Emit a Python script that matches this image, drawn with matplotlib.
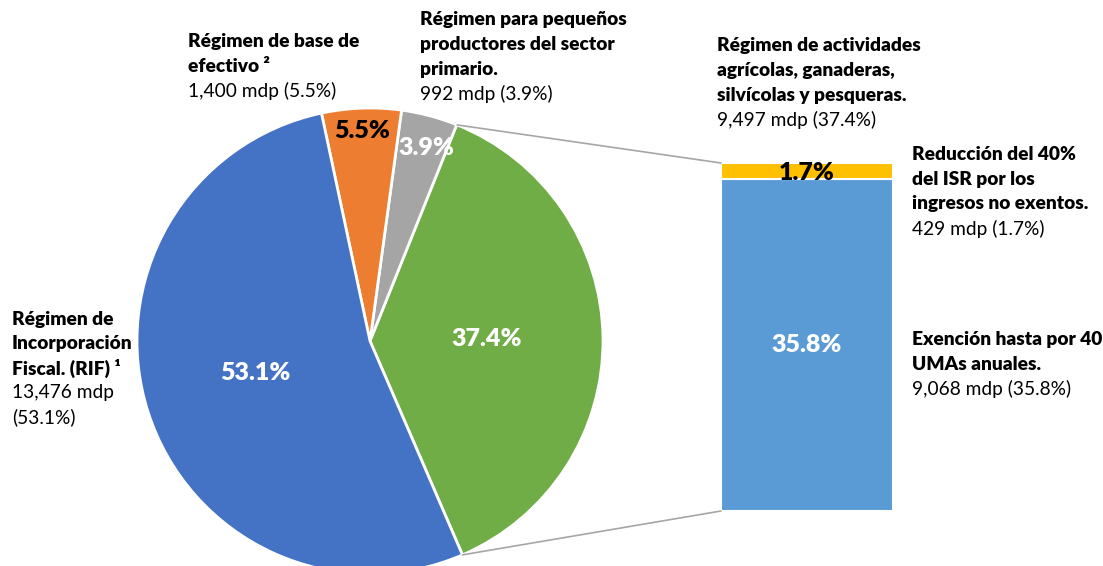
import matplotlib
matplotlib.use("Agg")
import matplotlib.pyplot as plt
from matplotlib.patches import ConnectionPatch
import numpy as np

# ---- data ----
pie_names = [
    "Régimen de actividades\nagrícolas, ganaderas,\nsilvícolas y pesqueras.",
    "Régimen para pequeños\nproductores del sector\nprimario.",
    "Régimen de base de\nefectivo ²",
    "Régimen de\nIncorporación\nFiscal. (RIF) ¹",
]
pie_mdp = [9497, 992, 1400, 13476]
pie_pct = [37.4, 3.9, 5.5, 53.1]
pie_colors = ["#70AD47", "#A5A5A5", "#ED7D31", "#4472C4"]
pie_pct_colors = ["white", "white", "black", "white"]

bar_names = [
    "Exención hasta por 40\nUMAs anuales.",
    "Reducción del 40%\ndel ISR por los\ningresos no exentos.",
]
bar_mdp = [9068, 429]
bar_pct = [35.8, 1.7]
bar_colors = ["#5B9BD5", "#FFC000"]
bar_pct_colors = ["white", "black"]

FAM = ["Lato", "DejaVu Sans"]
plt.rcParams["font.family"] = FAM

W, H = 1103, 566
fig = plt.figure(figsize=(W / 100, H / 100), dpi=100)
ax = fig.add_axes([0, 0, 1, 1])

cx, cy, R = 370, H - 341, 233
start = -pie_pct[0] / 100 * 360 / 2 + 0.7
wedges, _ = ax.pie(pie_pct, colors=pie_colors, startangle=start, counterclock=True,
                   center=(cx, cy), radius=R,
                   wedgeprops=dict(edgecolor="white", linewidth=2))
ax.set_xlim(0, W)
ax.set_ylim(0, H)
ax.set_aspect("auto")
ax.axis("off")

PCT_FS = 18
# percentage labels inside pie
pct_pos = [(487, 339), (426, 148), (362, 131), (255, 373)]
for (x, y), p, c in zip(pct_pos, pie_pct, pie_pct_colors):
    ax.text(x, H - y, f"{p}%", color=c, fontsize=PCT_FS, fontweight="heavy",
            ha="center", va="center")

# ---- bar ----
bx0, bx1, by0, by1 = 721, 893, 163, 511
bax = fig.add_axes([bx0 / W, (H - by1) / H, (bx1 - bx0) / W, (by1 - by0) / H])
bottom = 0
for v, c in zip(bar_pct, bar_colors):
    bax.bar(0, v, bottom=bottom, width=1, color=c, edgecolor="white", linewidth=1.5)
    bottom += v
bax.set_xlim(-0.5, 0.5)
bax.set_ylim(0, sum(bar_pct))
bax.axis("off")
bax.text(0, bar_pct[0] / 2, f"{bar_pct[0]}%", color=bar_pct_colors[0], fontsize=PCT_FS,
         fontweight="heavy", ha="center", va="center")
bax.text(0, bar_pct[0] + bar_pct[1] / 2 - 0.25, f"{bar_pct[1]}%", color=bar_pct_colors[1],
         fontsize=PCT_FS, fontweight="heavy", ha="center", va="center")

# connector lines
t1 = np.deg2rad(start + pie_pct[0] / 100 * 360)
t0 = np.deg2rad(start)
for t, yb in [(t1, sum(bar_pct)), (t0, 0)]:
    con = ConnectionPatch(xyA=(cx + R * np.cos(t), cy + R * np.sin(t)), coordsA=ax.transData,
                          xyB=(-0.5, yb), coordsB=bax.transData,
                          color="#A6A6A6", linewidth=1.2)
    fig.add_artist(con)

# ---- outside labels ----
def label(x, ytop, name, mdp, pct, pitch=24.5, split_value=False):
    lines = name.split("\n")
    y = ytop
    for ln in lines:
        ax.text(x, H - y, ln, fontsize=13.8, fontweight="heavy", ha="left", va="center",
                color="black")
        y += pitch
    if split_value:
        vals = [f"{mdp:,} mdp", f"({pct}%)"]
    else:
        vals = [f"{mdp:,} mdp ({pct}%)"]
    for ln in vals:
        ax.text(x, H - y, ln, fontsize=13.8, ha="left", va="center", color="black")
        y += pitch

label(717, 46, pie_names[0], pie_mdp[0], pie_pct[0])
label(420, 20, pie_names[1], pie_mdp[1], pie_pct[1])
label(188, 42, pie_names[2], pie_mdp[2], pie_pct[2])
label(12, 319, pie_names[3], pie_mdp[3], pie_pct[3], split_value=True)
label(912, 340, bar_names[0], bar_mdp[0], bar_pct[0])
label(912, 155, bar_names[1], bar_mdp[1], bar_pct[1])

fig.savefig("out.png", dpi=100)
